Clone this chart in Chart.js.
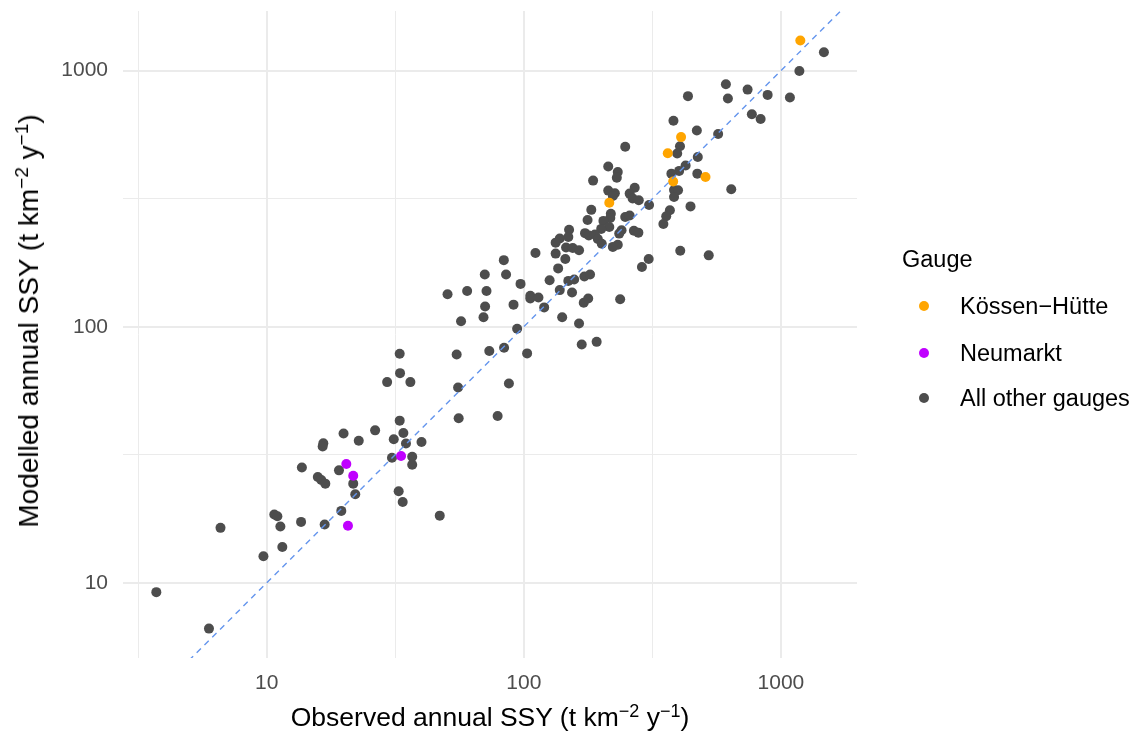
<!DOCTYPE html>
<html>
<head>
<meta charset="utf-8">
<title>Observed vs modelled annual SSY</title>
<script src="https://cdn.jsdelivr.net/npm/chart.js@4.4.1/dist/chart.umd.min.js"></script>
<style>
  body { margin: 0; background: #fff; font-family: "Liberation Sans", Arial, Helvetica, sans-serif; }
  #wrap { position: relative; width: 1138px; height: 738px; }
  #chart { position: absolute; left: 0; top: 0; }
  .axis-title { position: absolute; font-size: 26.5px; line-height: 1; color: #000; white-space: nowrap; transform: translate(-50%, -50%); }
  .axis-title sup { font-size: 0.68em; vertical-align: 0.5em; line-height: 0; }
  #yTitle { font-size: 28px; transform: translate(-50%, -50%) rotate(-90deg); }
  .legend-title, .legend-item { position: absolute; font-size: 23.5px; line-height: 1; color: #000; white-space: nowrap; }
  .legend-item .dot { position: absolute; left: -41px; top: 6px; width: 10px; height: 10px; border-radius: 50%; }
</style>
</head>
<body>
<div id="wrap">
  <canvas id="chart" width="1138" height="738"></canvas>
  <div class="axis-title" id="xTitle" style="left:490px; top:717px;">Observed annual SSY (t km<sup>−2</sup> y<sup>−1</sup>)</div>
  <div class="axis-title" id="yTitle" style="left:29px; top:321px;">Modelled annual SSY (t km<sup>−2</sup> y<sup>−1</sup>)</div>
  <div class="legend-title" style="left:902px; top:248px;">Gauge</div>
  <div class="legend-item" style="left:960px; top:295px;"><span class="dot" style="background:#FFA500"></span>Kössen−Hütte</div>
  <div class="legend-item" style="left:960px; top:342px;"><span class="dot" style="background:#C000FF"></span>Neumarkt</div>
  <div class="legend-item" style="left:960px; top:387px;"><span class="dot" style="background:#4D4D4D"></span>All other gauges</div>
</div>
<script>
// observed / modelled SSY, t km-2 y-1
const kossenObs = [1190, 409, 363, 509, 381, 215];
const kossenMod = [1310, 550, 476, 384, 369, 305];

const neumarktObs = [20.4, 21.7, 33.3, 20.7];
const neumarktMod = [29.1, 26.2, 31.3, 16.7];

const otherObs = [
  1470, 1180, 611, 742, 888, 435, 622, 1084, 771, 834,
  382, 471, 570, 405, 248, 395, 475, 426, 213, 232,
  230, 186, 402, 375, 473, 641, 213, 226, 222, 384,
  398, 384, 270, 258, 265, 280, 307, 445, 183, 370,
  358, 349, 218, 217, 204, 177, 248, 258, 215, 200,
  150, 240, 235, 268, 279, 173, 179, 189, 194, 201,
  138, 149, 133, 232, 222, 146, 155, 164, 406, 111,
  133, 524, 145, 83.6, 306, 288, 136, 85.3, 70.5, 126,
  149, 157, 172, 181, 97.1, 50.5, 60.2, 71.6, 138, 154,
  106, 106, 114, 171, 178, 237, 70.7, 91.2, 120, 69.7,
  57.0, 141, 164, 94.2, 54.8, 73.4, 83.8, 103, 168, 192,
  32.9, 33.0, 29.4, 36.2, 55.5, 87.5, 55.8, 79.1, 32.9, 34.0,
  31.2, 34.8, 40.0, 26.4, 22.8, 19.9, 16.6, 16.5, 13.7, 19.1,
  15.8, 16.3, 16.9, 21.7, 22.1, 30.7, 36.8, 36.8, 32.6, 33.8,
  47.1, 19.5, 16.8, 13.6, 10.7, 11.0, 11.3, 11.5, 9.71, 6.61,
  3.72, 5.96
];
const otherMod = [
  1180, 997, 884, 843, 804, 795, 778, 785, 676, 647,
  637, 584, 566, 507, 504, 475, 460, 426, 422, 402,
  382, 372, 406, 396, 396, 344, 340, 332, 324, 342,
  341, 321, 349, 331, 317, 312, 299, 295, 286, 285,
  270, 252, 276, 266, 259, 261, 268, 272, 245, 241,
  239, 238, 231, 237, 233, 232, 227, 229, 220, 211,
  221, 224, 213, 209, 205, 204, 203, 199, 198, 194,
  193, 190, 184, 182, 184, 171, 169, 160, 160, 152,
  151, 153, 157, 160, 147, 134, 138, 138, 139, 136,
  132, 129, 130, 124, 129, 128, 120, 122, 119, 109,
  105, 109, 103, 98.2, 77.9, 80.4, 82.8, 78.7, 85.3, 87.3,
  78.5, 65.9, 60.8, 60.8, 57.9, 60.0, 43.9, 44.8, 43.0, 38.5,
  36.4, 35.0, 35.5, 39.4, 35.9, 38.3, 35.1, 34.1, 28.2, 27.5,
  25.9, 25.2, 24.4, 24.4, 22.2, 30.8, 31.1, 28.9, 22.8, 20.7,
  18.3, 19.1, 16.9, 17.3, 18.5, 18.2, 16.6, 13.8, 12.7, 16.4,
  9.20, 6.63
];

// 1:1 line
const oneToOne = [1, 10000];

// gridlines (major at powers of ten, minor half way) and labelled ticks
const gridX = [3.162, 10, 31.62, 100, 316.2, 1000];
const gridY = [10, 31.62, 100, 316.2, 1000];
const tickLabels = [10, 100, 1000];

function pairs(xs, ys) {
  return xs.map((x, i) => ({ x: x, y: ys[i] }));
}

const tickFont = { family: "'Liberation Sans', Arial, Helvetica, sans-serif", size: 21 };

function logAxis(min, max, grid, horizontal) {
  return {
    type: "logarithmic",
    min: min,
    max: max,
    afterBuildTicks: (s) => {
      s.ticks = grid.map((v) => ({ value: v }));
    },
    afterFit: (s) => {
      if (horizontal) {
        s.height = 80;
        s.paddingLeft = 0;
        s.paddingRight = 0;
      } else {
        s.width = 123;
        s.paddingTop = 0;
        s.paddingBottom = 0;
      }
    },
    grid: {
      color: "#EBEBEB",
      drawTicks: false,
      lineWidth: (ctx) => (ctx.tick && tickLabels.includes(ctx.tick.value) ? 2 : 1),
    },
    border: { display: false },
    ticks: {
      autoSkip: false,
      maxRotation: 0,
      color: "#4D4D4D",
      font: tickFont,
      padding: horizontal ? 13 : 15,
      callback: (v) => (tickLabels.includes(v) ? String(v) : ""),
    },
  };
}

function points(xs, ys, colour) {
  return {
    type: "scatter",
    data: pairs(xs, ys),
    pointRadius: 5,
    pointHoverRadius: 5,
    pointBorderWidth: 0,
    pointBackgroundColor: colour,
    backgroundColor: colour,
  };
}

new Chart(document.getElementById("chart"), {
  type: "scatter",
  data: {
    datasets: [
      {
        type: "line",
        data: pairs(oneToOne, oneToOne),
        borderColor: "#6495ED",
        borderWidth: 1.4,
        borderDash: [6, 5],
        pointRadius: 0,
        fill: false,
      },
      points(kossenObs, kossenMod, "#FFA500"),
      points(neumarktObs, neumarktMod, "#C000FF"),
      points(otherObs, otherMod, "#4D4D4D"),
    ],
  },
  options: {
    responsive: false,
    animation: false,
    layout: { padding: { top: 11, right: 281, left: 0, bottom: 0 } },
    plugins: {
      legend: { display: false },
      tooltip: { enabled: false },
    },
    scales: {
      x: logAxis(2.76, 1977, gridX, true),
      y: logAxis(5.09, 1709, gridY, false),
    },
  },
});
</script>
</body>
</html>
